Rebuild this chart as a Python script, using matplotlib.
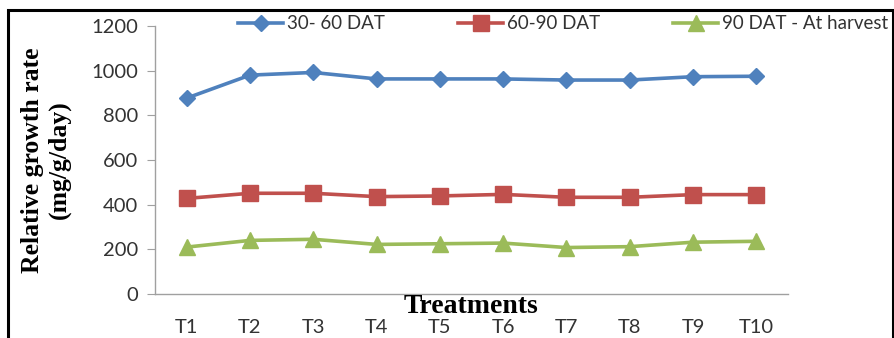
import numpy as np
import matplotlib
matplotlib.use("Agg")
import matplotlib.pyplot as plt
from matplotlib.patches import Rectangle

treatments = ["T1", "T2", "T3", "T4", "T5", "T6", "T7", "T8", "T9", "T10"]
rgr_30_60 = [877, 980, 992, 963, 963, 963, 958, 958, 973, 975]
rgr_60_90 = [428, 451, 451, 436, 439, 446, 433, 433, 445, 445]
rgr_90_harvest = [210, 240, 245, 222, 225, 228, 208, 212, 232, 236]

series_names = ["30- 60 DAT", "60-90 DAT", "90 DAT - At harvest"]
colors = ["#4F81BD", "#C0504D", "#9BBB59"]
markers = ["D", "s", "^"]
msizes = [8, 11, 12]

plt.rcParams["font.family"] = ["Lato", "DejaVu Sans"]

fig = plt.figure(figsize=(8.95, 3.38), dpi=100)
ax = fig.add_axes([155 / 895, 1 - 294 / 338, 633 / 895, 268 / 338])

x = np.arange(len(treatments))
for vals, name, c, m, ms in zip(
    [rgr_30_60, rgr_60_90, rgr_90_harvest], series_names, colors, markers, msizes
):
    ax.plot(x, vals, color=c, lw=2.6, marker=m, ms=ms, label=name)

ax.set_xlim(-0.5, len(treatments) - 0.5)
ax.set_ylim(0, 1200)
ax.set_yticks(np.arange(0, 1201, 200))
ax.set_xticks(x)
ax.set_xticklabels(treatments)

for s in ["top", "right"]:
    ax.spines[s].set_visible(False)
for s in ["left", "bottom"]:
    ax.spines[s].set_color("#A0A0A0")
    ax.spines[s].set_linewidth(1.0)
ax.tick_params(axis="y", length=6, color="#A0A0A0", labelsize=14.5,
               labelcolor="#333333", pad=6)
ax.tick_params(axis="x", length=0, labelsize=14.5, labelcolor="#333333", pad=18)

ax.set_ylabel("Relative growth rate\n(mg/g/day)", family="Liberation Serif",
              fontweight="bold", fontsize=18.5, linespacing=1.2, labelpad=15)
ax.text(0.5, 0.0, "Treatments", transform=ax.transAxes, ha="center", va="top",
        family="Liberation Serif", fontweight="bold", fontsize=20)

leg = ax.legend(loc="center", bbox_to_anchor=(0.645, 1.008), ncol=3, frameon=False,
                fontsize=13.5, handlelength=2.4, columnspacing=3.9, handletextpad=0.2,
                borderaxespad=0)
for t in leg.get_texts():
    t.set_color("#333333")

fig.patches.append(Rectangle((8 / 895, -0.2), 885 / 895, 1.2 - 10 / 338,
                             transform=fig.transFigure, fill=False,
                             edgecolor="black", lw=2.2, clip_on=False))

fig.savefig("out.png", dpi=100)
